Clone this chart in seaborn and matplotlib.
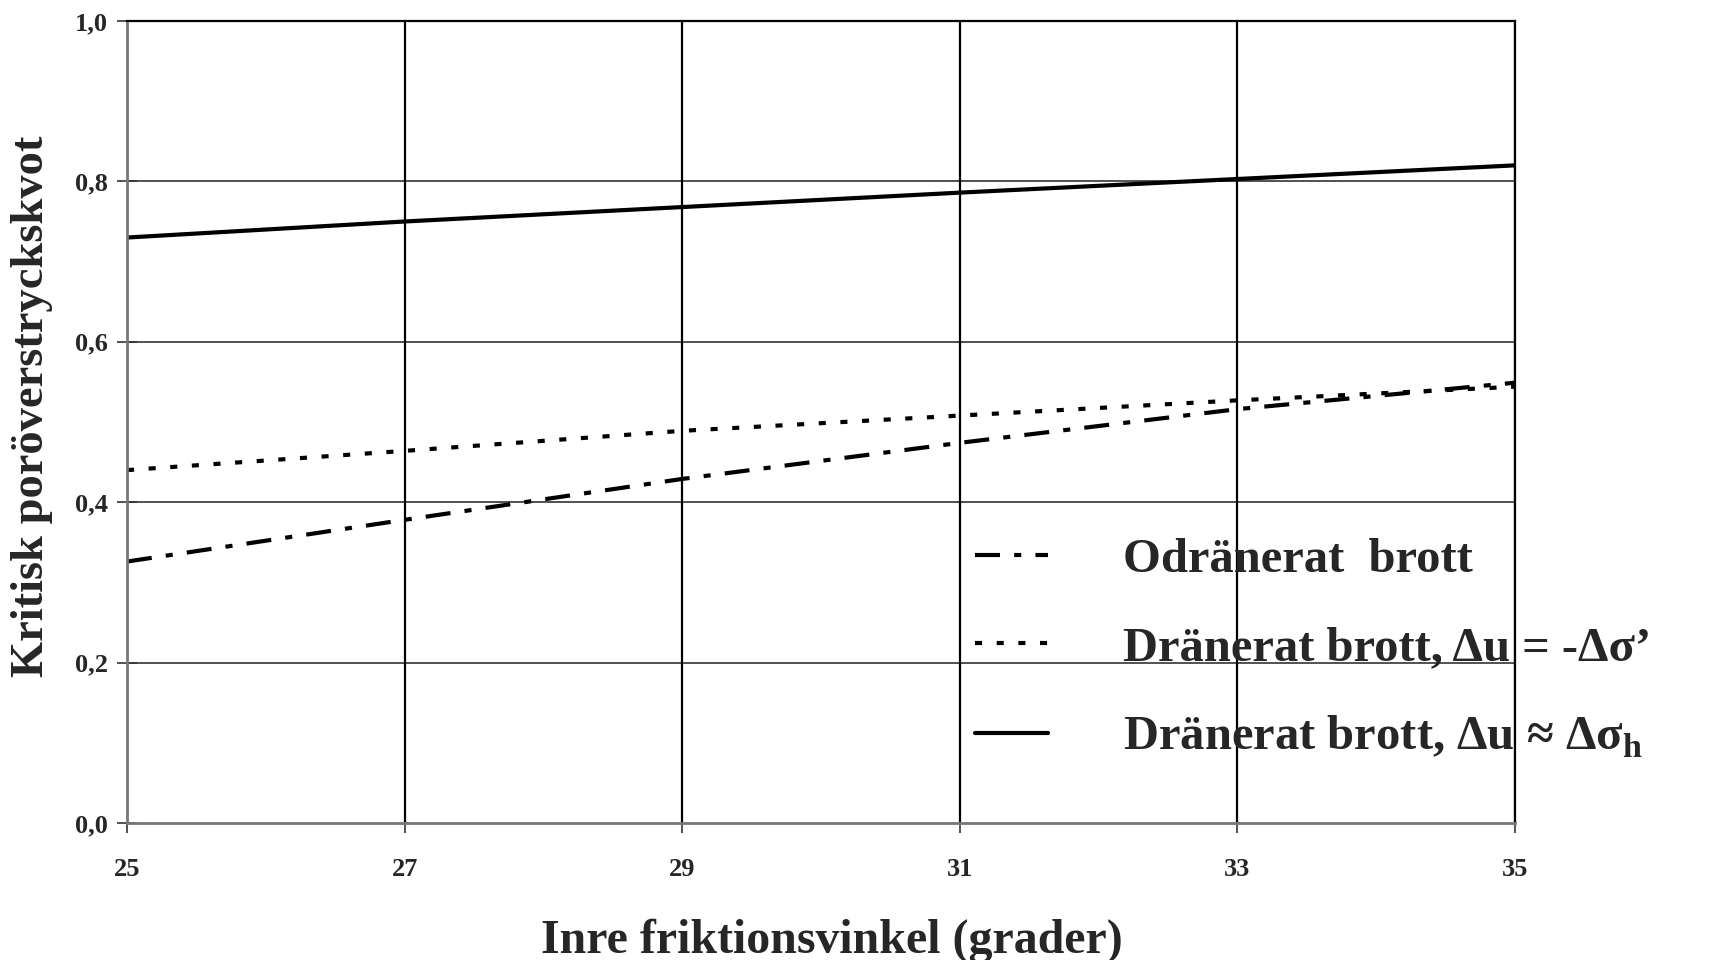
import numpy as np
import pandas as pd
import matplotlib
matplotlib.use("Agg")
import matplotlib.pyplot as plt
import seaborn as sns

# ---- data ----
vinkel = [25, 27, 29, 31, 33, 35]
odranerat = [0.326, 0.378, 0.429, 0.474, 0.516, 0.549]
dranerat_sigma = [0.440, 0.464, 0.489, 0.508, 0.527, 0.544]
dranerat_sigma_h = [0.730, 0.750, 0.768, 0.786, 0.803, 0.820]

serie_namn = [
    "Odränerat  brott",
    "Dränerat brott, \u0394u = -\u0394\u03c3\u2019",
    "Dränerat brott, \u0394u \u2248 \u0394\u03c3$_\\mathregular{h}$",
]
x_ticks = [25, 27, 29, 31, 33, 35]
y_ticks = [0.0, 0.2, 0.4, 0.6, 0.8, 1.0]
y_ticklabels = ["0,0", "0,2", "0,4", "0,6", "0,8", "1,0"]
x_label = "Inre friktionsvinkel (grader)"
y_label = "Kritisk poröverstryckskvot"

df = pd.DataFrame({
    "vinkel": vinkel * 3,
    "kvot": odranerat + dranerat_sigma + dranerat_sigma_h,
    "serie": [serie_namn[0]] * 6 + [serie_namn[1]] * 6 + [serie_namn[2]] * 6,
})

sns.set_style("white")
plt.rcParams["font.family"] = ["Liberation Serif", "DejaVu Serif"]
plt.rcParams["font.weight"] = "bold"
plt.rcParams["mathtext.fontset"] = "custom"
plt.rcParams["mathtext.rm"] = "Liberation Serif:bold"
plt.rcParams["mathtext.bf"] = "Liberation Serif:bold"

fig = plt.figure(figsize=(17.13, 9.6), dpi=100)
ax = fig.add_axes([127 / 1713, 1 - 823 / 960, (1515 - 127) / 1713, (823 - 21) / 960])

dashes = {
    serie_namn[0]: (6, 3.4, 1.7, 3.4),
    serie_namn[1]: (1.7, 3.5),
    serie_namn[2]: "",
}
sns.lineplot(data=df, x="vinkel", y="kvot", style="serie", dashes=dashes,
             color="black", linewidth=3, ax=ax, legend=True,
             style_order=serie_namn)

ax.set_xlim(25, 35)
ax.set_ylim(0, 1.0)
ax.set_xticks(x_ticks)
ax.set_xticklabels([str(v) for v in x_ticks])
ax.set_yticks(y_ticks)
ax.set_yticklabels(y_ticklabels)

for y in y_ticks[1:]:
    ax.axhline(y, color="#333333", lw=1.2, zorder=0)
for x in x_ticks[1:]:
    ax.axvline(x, color="black", lw=1.6, zorder=0)

for s in ["left", "bottom"]:
    ax.spines[s].set_color("#777777")
    ax.spines[s].set_linewidth(2)
for s in ["top", "right"]:
    ax.spines[s].set_color("black")
    ax.spines[s].set_linewidth(1.6)

ax.tick_params(axis="y", direction="inout", length=14, width=1.2, color="#333333",
               labelsize=19, pad=7, left=True)
ax.tick_params(axis="x", direction="out", length=7, width=1.2, color="#333333",
               labelsize=19, pad=18, bottom=True)
for lab in ax.get_xticklabels() + ax.get_yticklabels():
    lab.set_fontweight("bold")

ax.set_xlabel(x_label, fontsize=34.5, fontweight="bold")
ax.set_ylabel(y_label, fontsize=33.5, fontweight="bold")
ax.xaxis.set_label_coords((832 - 127) / 1388, -(918 - 823) / 802)
ax.yaxis.set_label_coords(-(127 - 53) / 1388, 0.519)

handles, labels = ax.get_legend_handles_labels()
leg = ax.legend(handles, labels, loc="upper left",
                bbox_to_anchor=(975 / 1713, 1 - 538 / 960),
                bbox_transform=fig.transFigure, frameon=False,
                prop={"family": ["Liberation Serif", "DejaVu Serif"], "weight": "bold", "size": 35},
                handlelength=1.5, handletextpad=1.55, labelspacing=0.9,
                borderaxespad=0, borderpad=0)
for h in leg.get_lines():
    h.set_linewidth(3)

fig.savefig("out.png", dpi=100)
